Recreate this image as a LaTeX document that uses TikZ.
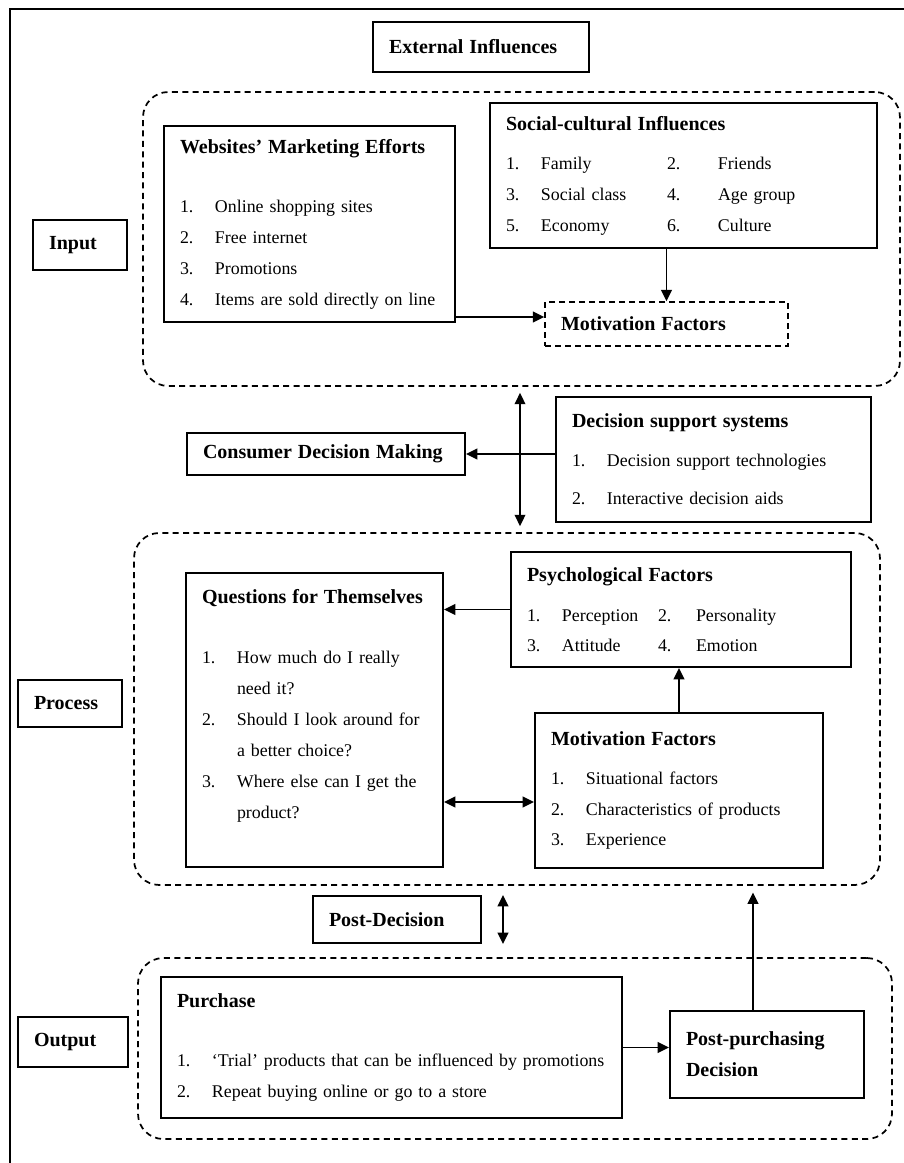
\documentclass[tikz,border=0pt]{standalone}
\usepackage{fontspec}
\setmainfont{Liberation Serif}
\usepackage{tikz}
\usetikzlibrary{arrows.meta}
\newcommand{\hd}[1]{\mbox{\bfseries\fontsize{15pt}{23.25pt}\selectfont #1}}
\newcommand{\lcol}[2][26.25pt]{\makebox[#1][l]{#2}}
\tikzset{
  box/.style={draw,line width=1.5pt,align=left,inner xsep=12pt,inner ysep=0pt,font={\fontsize{13.4pt}{23.25pt}\selectfont}},
  dbox/.style={box,line width=1.1pt,dash pattern=on 4.5pt off 3pt},
  grp/.style={draw,line width=1.3pt,dash pattern=on 4.5pt off 3.3pt,rounded corners=19pt},
  ar/.style={-{Triangle[length=8.5pt,width=8pt]},line width=1.3pt},
  dar/.style={{Triangle[length=8.5pt,width=8pt]}-{Triangle[length=8.5pt,width=8pt]},line width=1.3pt}
}
\begin{document}
\begin{tikzpicture}[x=0.75pt,y=-0.75pt]
\useasboundingbox (0,0) rectangle (903,1163);
\draw[line width=1.5pt] (10,1175) -- (10,9) -- (915,9);
\node[grp,minimum width=567.75pt,minimum height=220.5pt] (ginput) at (521.5,239) {};
\node[grp,minimum width=559.5pt,minimum height=264pt] (gproc) at (507,709) {};
\node[grp,minimum width=565.5pt,minimum height=135.75pt] (gout) at (515,1048.5) {};
\node[box,text width=138pt,minimum height=37.5pt] (ext) at (481,47) {\hd{External Influences}};
\node[box,text width=46.5pt,minimum height=37.5pt] (input) at (80,245) {\hd{Input}};
\node[box,text width=54pt,minimum height=35.25pt] (process) at (70,703.5) {\hd{Process}};
\node[box,text width=58.5pt,minimum height=37.5pt] (output) at (73,1042) {\hd{Output}};
\node[box,text width=194.25pt,minimum height=147pt] (web) at (309.5,224) {\hd{Websites' Marketing Efforts}\\[21pt]
  \lcol{1.}Online shopping sites\\
  \lcol{2.}Free internet\\
  \lcol{3.}Promotions\\
  \lcol{4.}\mbox{Items are sold directly on line}};
\node[box,text width=266.25pt,minimum height=108.75pt] (soc) at (683.5,175.5) {\hd{Social-cultural Influences}\\[6pt]
  \lcol{1.}\lcol[94.5pt]{Family}\lcol[38.25pt]{2.}Friends\\
  \lcol{3.}\lcol[94.5pt]{Social class}\lcol[38.25pt]{4.}Age group\\
  \lcol{5.}\lcol[94.5pt]{Economy}\lcol[38.25pt]{6.}Culture};
\node[dbox,text width=158.25pt,minimum height=33pt] (motiv1) at (666.5,324) {\hd{Motivation Factors}};
\node[box,text width=212.25pt,minimum height=93.75pt] (dss) at (713.5,459.5) {\hd{Decision support systems}\\[6pt]
  \lcol{1.}\mbox{Decision support technologies}\\[5.25pt]
  \lcol{2.}Interactive decision aids};
\node[box,text width=184.5pt,minimum height=31.5pt] (cdm) at (326,454) {\hd{Consumer Decision Making}};
\node[box,text width=231pt,minimum height=86.25pt] (psy) at (681,609.5) {\hd{Psychological Factors}\\[6.75pt]
  \lcol{1.}\lcol[72pt]{Perception}\lcol[28.5pt]{2.}Personality\\[-0.75pt]
  \lcol{3.}\lcol[72pt]{Attitude}\lcol[28.5pt]{4.}Emotion};
\node[box,text width=168.75pt,minimum height=220.5pt] (ques) at (314.5,720) {\hd{Questions for Themselves}\\[21.75pt]
  \lcol{1.}\makebox[142.5pt][s]{How much do I really}\\
  \lcol{}need it?\\
  \lcol{2.}\makebox[142.5pt][s]{Should I look around for}\\
  \lcol{}a better choice?\\
  \lcol{3.}\makebox[142.5pt][s]{Where else can I get the}\\
  \lcol{}product?\\[0.75pt]\mbox{}};
\node[box,text width=192pt,minimum height=116.25pt] (motiv2) at (679,790.5) {\hd{Motivation Factors}\\[6pt]
  \lcol{1.}Situational factors\\
  \lcol{2.}\mbox{Characteristics of products}\\[-1pt]
  \lcol{3.}Experience};
\node[box,text width=102pt,minimum height=35.25pt] (postdec) at (397,919.5) {\hd{Post-Decision}};
\node[box,text width=321.75pt,minimum height=105.75pt] (purch) at (391.5,1047.5) {\hd{Purchase}\\[21pt]
  \lcol{1.}\mbox{`Trial' products that can be influenced by promotions}\\
  \lcol{2.}\mbox{Repeat buying online or go to a store}};
\node[box,text width=121.5pt,minimum height=65.25pt] (postpur) at (767,1054.5) {\hd{Post-purchasing}\\
  \hd{Decision}};
\coordinate (w2m) at ([yshift=4.5pt]web.south east);
\coordinate (io) at (520,0);
\coordinate (qm) at ([yshift=-8.6pt]motiv2.west);
\coordinate (pp) at ([xshift=-10.5pt]postpur.north);
\draw[ar] (motiv1.north |- soc.south) -- (motiv1.north);
\draw[ar] (w2m) -- (w2m -| motiv1.west);
\draw[dar,shorten <=4.5pt,shorten >=4.5pt] (io |- ginput.south) -- (io |- gproc.north);
\draw[ar] (dss.west |- cdm.east) -- (cdm.east);
\draw[ar] (psy.west) -- (psy.west -| ques.east);
\draw[ar] (motiv2.north) -- (motiv2.north |- psy.south);
\draw[dar] (qm -| ques.east) -- (qm);
\draw[dar] ([xshift=15.75pt]postdec.north east) -- ([xshift=15.75pt]postdec.south east);
\draw[ar] (purch.east) -- (purch.east -| postpur.west);
\draw[ar,shorten >=5pt] (pp) -- (pp |- gproc.south);
\end{tikzpicture}
\end{document}
